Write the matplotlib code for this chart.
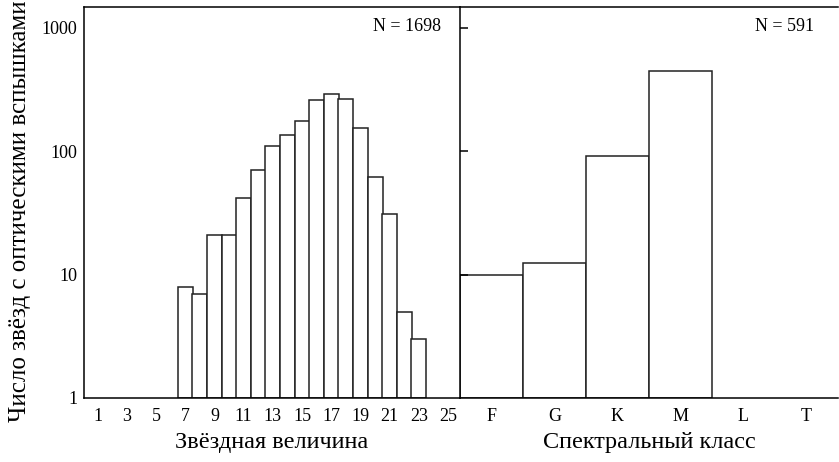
import matplotlib
matplotlib.use("Agg")
import matplotlib.pyplot as plt
import numpy as np

# распределение по звёздной величине
mag = [7, 8, 9, 10, 11, 12, 13, 14, 15, 16, 17, 18, 19, 20, 21, 22, 23]
mag_count = [8, 7, 21, 21, 42, 70, 111, 136, 177, 260, 294, 265, 156, 62, 31, 5, 3]
mag_ticks = [1, 3, 5, 7, 9, 11, 13, 15, 17, 19, 21, 23, 25]

# распределение по спектральному классу
sp_class = ['F', 'G', 'K', 'M', 'L', 'T']
sp_count = [10, 12.5, 92, 450, 0, 0]

y_ticks = [1, 10, 100, 1000]

plt.rcParams['font.family'] = ['Liberation Serif', 'DejaVu Serif']

fig = plt.figure(figsize=(8.39, 4.62), dpi=100)
ax1 = fig.add_axes([84/839, 64/462, 376/839, 391/462])
ax2 = fig.add_axes([460/839, 64/462, 378/839, 391/462])

lw = 1.1
base = 1  # низ столбиков на логарифмической шкале
ax1.bar(mag, np.array(mag_count) - base, width=1.03, bottom=base,
        color='white', edgecolor='#222222', linewidth=lw)
ax1.set_yscale('log')
ax1.set_ylim(1, 1480)
ax1.set_xlim(0.06, 25.82)
ax1.set_xticks(mag_ticks)
ax1.set_xticklabels([str(t) for t in mag_ticks], fontsize=13)
ax1.set_yticks(y_ticks)
ax1.set_yticklabels([str(t) for t in y_ticks], fontsize=13)
ax1.minorticks_off()
ax1.tick_params(axis='x', length=0, pad=7)
ax1.tick_params(axis='y', length=0, pad=5)
ax1.set_xlabel('Звёздная величина', fontsize=17.5, labelpad=5)
ax1.text(0.949, 0.95, 'N = 1698', transform=ax1.transAxes, ha='right',
         va='center', fontsize=13)
for s in ['top', 'left', 'bottom']:
    ax1.spines[s].set_linewidth(lw)
ax1.spines['right'].set_visible(False)

x2 = np.arange(len(sp_class))
h = [c - base if c > 0 else np.nan for c in sp_count]
ax2.bar(x2, h, width=1.0, bottom=base, color='white',
        edgecolor='#222222', linewidth=lw)
ax2.set_yscale('log')
ax2.set_ylim(1, 1480)
ax2.set_xlim(-0.5, 5.5)
ax2.set_xticks(x2)
ax2.set_xticklabels(sp_class, fontsize=13)
ax2.set_yticks(y_ticks[1:])
ax2.set_yticklabels([])
ax2.minorticks_off()
ax2.tick_params(axis='x', length=0, pad=7)
ax2.tick_params(axis='y', direction='in', length=6, width=lw)
ax2.set_xlabel('Спектральный класс', fontsize=17.5, labelpad=5)
ax2.text(0.937, 0.95, 'N = 591', transform=ax2.transAxes, ha='right',
         va='center', fontsize=13)
for s in ['top', 'left', 'bottom']:
    ax2.spines[s].set_linewidth(lw)
ax2.spines['right'].set_visible(False)

fig.text(20/839, (462 - 211)/462, 'Число звёзд с оптическими вспышками',
         rotation=90, ha='center', va='center', fontsize=18)

fig.savefig('out.png', dpi=100)
